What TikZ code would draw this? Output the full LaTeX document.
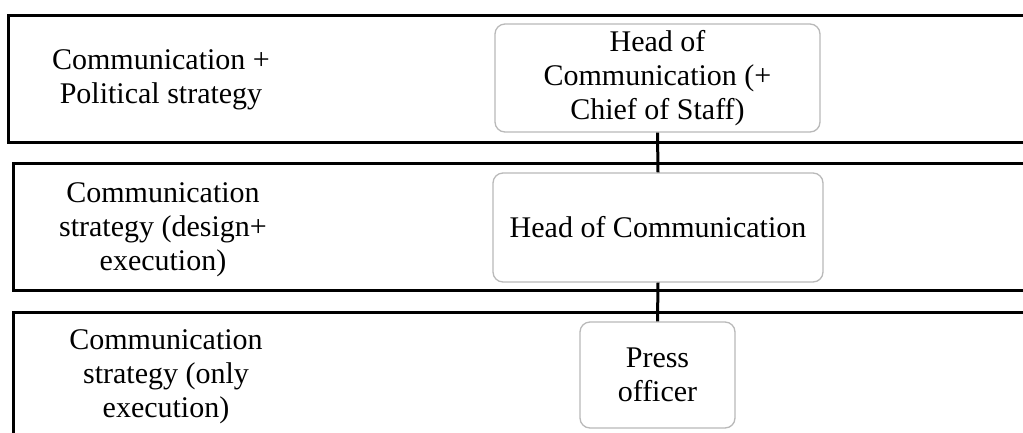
\documentclass[tikz,border=0pt]{standalone}
\usepackage{fontspec}
\setmainfont{Liberation Serif}
\begin{document}
\begin{tikzpicture}[x=1pt,y=-1pt,
  band/.style={draw=black,line width=3pt},
  role/.style={draw=gray!55,line width=1.3pt,rounded corners=10pt,fill=white,align=center,inner sep=0pt,font=\fontsize{30}{34}\selectfont},
  lbl/.style={align=center,inner sep=0pt,font=\fontsize{30}{34}\selectfont},
  link/.style={draw=black,line width=3pt}]
\useasboundingbox (0,0) rectangle (1023,432);
\clip (0,0) rectangle (1023,432);
\draw[band] (8,15) rectangle (1045,142);
\draw[band] (13,163) rectangle (1045,290);
\draw[band] (13,312) rectangle (1045,460);
\node[lbl] (l1) at (161,80) {Communication +\\Political strategy};
\node[lbl] (l2) at (163,230) {Communication\\strategy (design+\\execution)};
\node[lbl] (l3) at (166,377) {Communication\\strategy (only\\execution)};
\node[role,minimum width=325pt,minimum height=108pt] (b1) at (657.5,78) {Head of\\Communication (+\\Chief of Staff)};
\node[role,minimum width=330pt,minimum height=109pt] (b2) at (658,227.5) {Head of Communication};
\node[role,minimum width=155pt,minimum height=106pt] (b3) at (657.5,375) {Press\\officer};
\draw[link] (b1.south) -- (b2.north);
\draw[link] (b2.south) -- (b3.north);
\end{tikzpicture}
\end{document}
